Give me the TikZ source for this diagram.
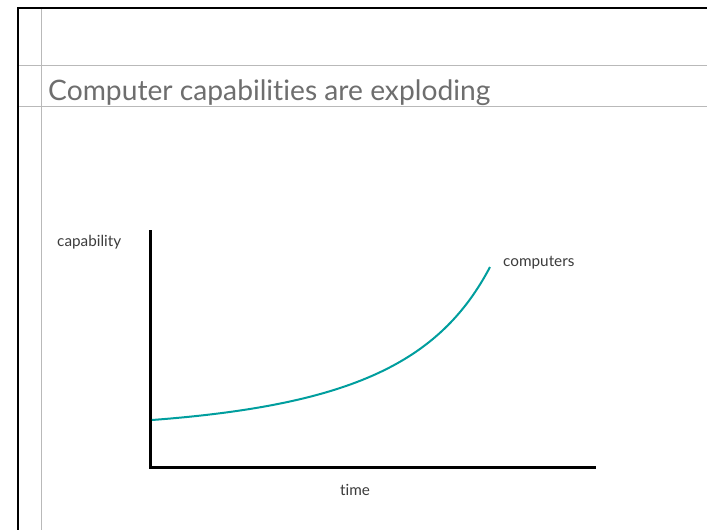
\documentclass[tikz,border=0pt]{standalone}
\usepackage{fontspec}
\setmainfont{Lato}[Ligatures=NoCommon]
\definecolor{guide}{RGB}{185,185,185}
\definecolor{titlegray}{RGB}{110,110,110}
\definecolor{teal2}{RGB}{0,158,158}
\definecolor{labelgray}{RGB}{60,60,60}
\begin{document}
\begin{tikzpicture}[x=1pt,y=-1pt,
  guideline/.style={draw=guide,line width=1pt},
  frame/.style={draw=black,line width=2pt},
  axis/.style={draw=black,line width=3pt},
  lbl/.style={text=labelgray,font=\fontsize{15.3}{18}\selectfont,inner sep=0pt},
  ttl/.style={text=titlegray,font=\fontsize{28.2}{32}\selectfont,inner sep=0pt,anchor=base west}]
\useasboundingbox (0,0) rectangle (707,530);
\fill[white] (0,0) rectangle (707,530);
% guides
\draw[guideline] (41,8) -- (41,530);
\draw[guideline] (17,65.5) -- (707,65.5);
\draw[guideline] (17,106.5) -- (707,106.5);
% frame
\draw[frame] (18,530) -- (18,8) -- (707,8);
% title
\node[ttl] (title) at (48,100) {Computer capabilities are exploding};
% axes
\coordinate (top) at (150.5,230);
\coordinate (origin) at (150.5,467);
\coordinate (right) at (596,467);
\draw[axis] (top) -- (origin.center) -- (right);
% curve
\coordinate (c0) at (152,420);
\coordinate (c3) at (490,267);
\draw[teal2,line width=2pt] (c0) .. controls (352,405) and (440,362) .. (c3);
% labels
\node[lbl,anchor=west] (cap) at (57,242) {capability};
\node[lbl,anchor=west] (comp) at (503,262.5) {computers};
\node[lbl] (time) at (355,490) {time};
\end{tikzpicture}
\end{document}
